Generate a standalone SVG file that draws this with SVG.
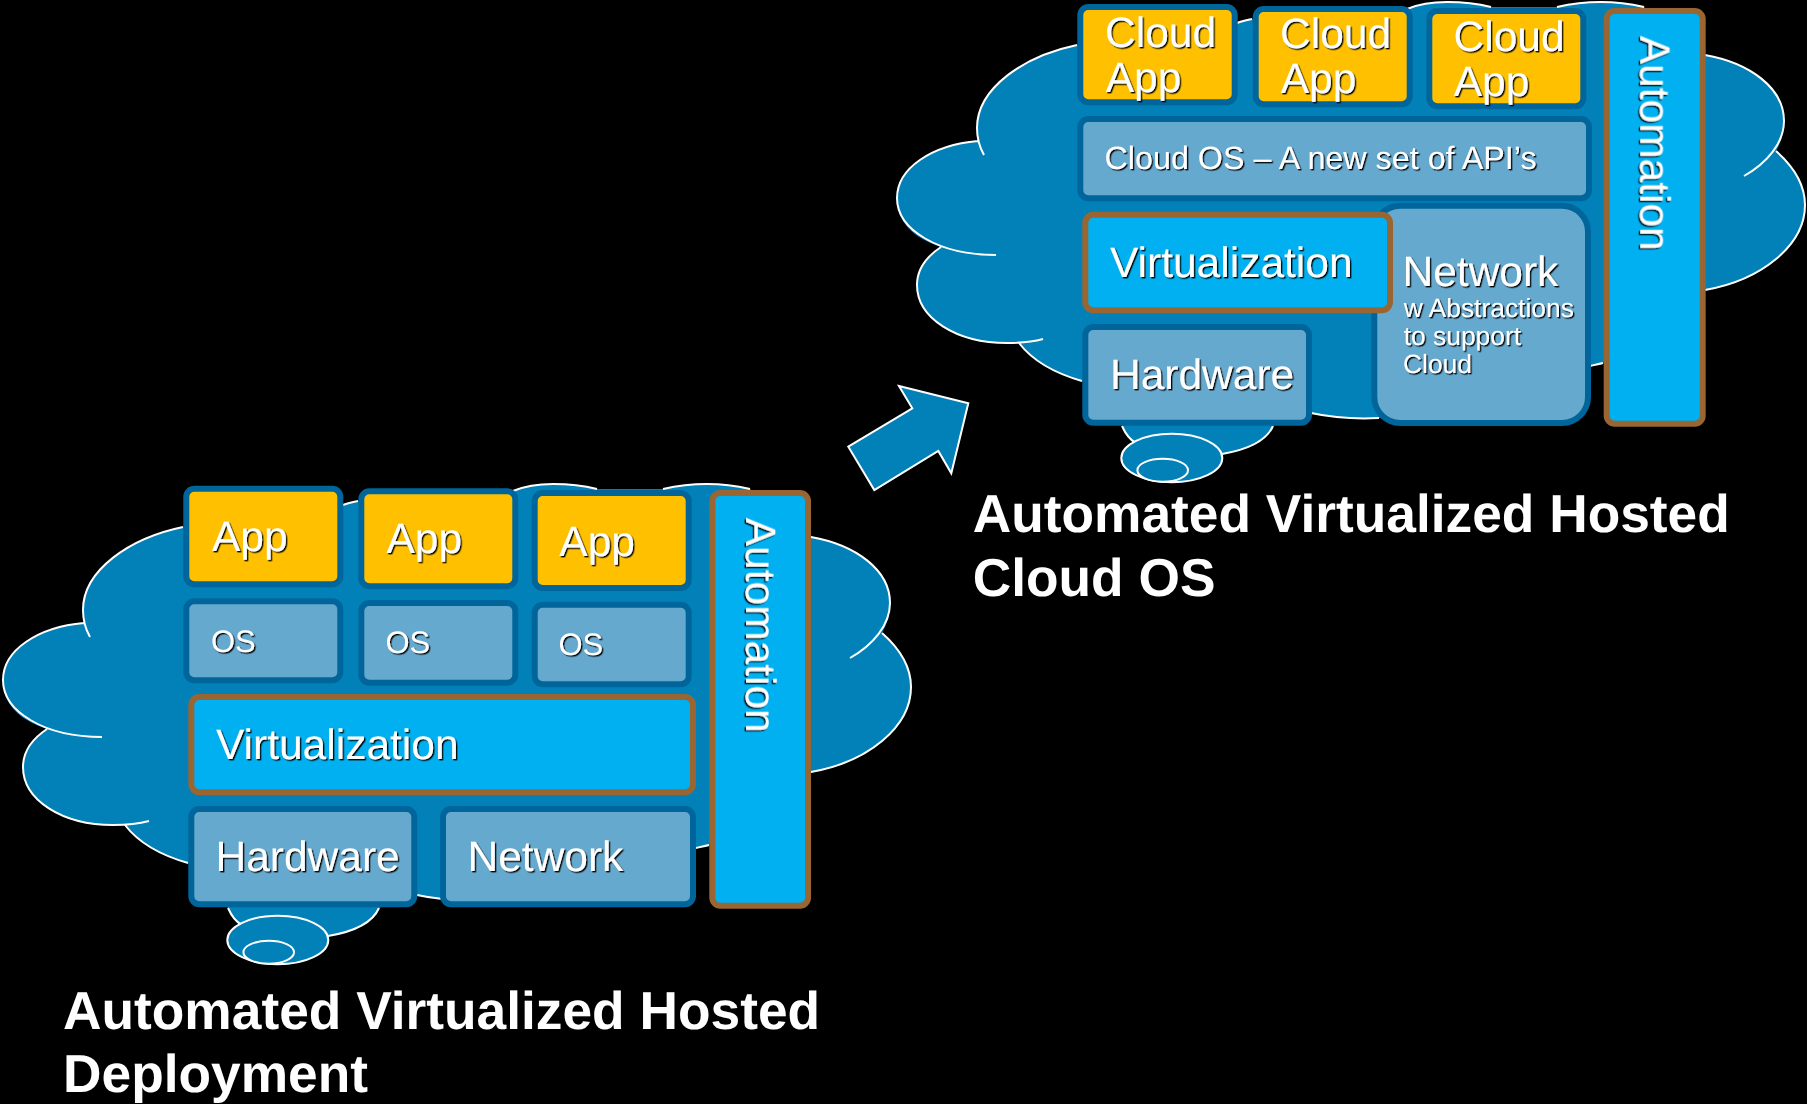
<svg xmlns="http://www.w3.org/2000/svg" width="1807" height="1104" viewBox="0 0 1807 1104">
<style>
.cf{fill:#0281B9;stroke:none}
.cs{fill:none;stroke:#fff;stroke-width:2}
.ce{fill:#0281B9;stroke:#fff;stroke-width:2}
.app{fill:#FFC000;stroke:#00659B;stroke-width:6}
.sys{fill:#65A9CF;stroke:#00659B;stroke-width:6}
.hi{fill:#00B0F0;stroke:#996633;stroke-width:6}
text{font-family:"Liberation Sans",Arial,sans-serif;fill:#fff;text-rendering:geometricPrecision}
.t{filter:url(#sh)}
.f42{font-size:42.5px}.f31{font-size:31px}.f32{font-size:32.3px}.f26{font-size:26.4px}
.title{font-size:53.3px;font-weight:bold}
</style>
<defs>
<filter id="sh" x="-10%" y="-20%" width="120%" height="140%"><feDropShadow dx="1.4" dy="1.4" stdDeviation="0.4" flood-color="#000" flood-opacity="0.95"/></filter>
<g id="cloud">
<path class="cf" d="M183 527C130 538 83 570 83 610L84 623C38 627 3 650 3 680C3 705 20 720 47 729C32 739 23 752 23 767C23 800 62 825 113 825L125 825C138 842 160 855 188 863L228 908C232 917 236 922 240 925L328 936C352 932 372 924 379 908L417 895C440 900 465 901 485 900C560 897 640 858 709 845L811 772C868 762 911 727 911 687C911 667 899 648 882 633C887 624 890 615 890 603C890 570 856 545 811 537L750 489C737 486 722 484 707 484C690 484 676 486 663 489L597 489C585 486 570 484 553 484C540 484 525 486 513 491L358 501L343 505Z"/>
<path class="cs" d="M183 527C130 538 83 570 83 610C83 620 86 630 90 637M84 623C38 627 3 650 3 680C3 712 45 737 102 737M47 729C32 739 23 752 23 767C23 800 62 825 113 825C126 825 138 824 149 821M125 825C138 842 160 855 188 863M417 895C440 900 465 901 485 900M696 848C700 847 705 846 709 845M228 908C232 917 236 922 242 925M379 908C372 924 352 932 328 936M343 505C348 503 353 502 358 501M513 491C525 486 540 484 553 484C570 484 585 486 597 489M663 489C676 486 690 484 707 484C722 484 737 486 750 489M811 537C856 545 890 570 890 603C890 625 873 645 850 658M882 633C899 648 911 667 911 687C911 727 868 762 811 772"/>
<ellipse class="ce" cx="277.8" cy="940" rx="50.5" ry="24.3"/>
<ellipse class="ce" cx="268.7" cy="952.3" rx="25.3" ry="11.5"/>
</g>
</defs>
<rect width="1807" height="1104" fill="#000"/>
<use id="cloud-left" href="#cloud"/>
<use id="cloud-right" href="#cloud" transform="translate(894 -482)"/>

<g id="connectors">
<path class="ce" d="M899 386L968.3 403.3L951.3 473.3L938.3 451L874.3 490L848.3 446.7L912.3 408.3Z"/>
</g>

<g id="left-app-1"><rect class="app" x="186.3" y="488.7" width="154" height="95.6" rx="8"/><text class="t f42" x="212" y="551">App</text></g>
<g id="left-app-2"><rect class="app" x="361.3" y="491.3" width="154" height="95" rx="8"/><text class="t f42" x="386.5" y="553.3">App</text></g>
<g id="left-app-3"><rect class="app" x="534.7" y="493" width="154" height="95" rx="8"/><text class="t f42" x="559.3" y="556">App</text></g>
<g id="left-os-1"><rect class="sys" x="186.3" y="601.3" width="154" height="79" rx="8"/><text class="t f31" x="211" y="651.7">OS</text></g>
<g id="left-os-2"><rect class="sys" x="361.3" y="603" width="154" height="79.7" rx="8"/><text class="t f31" x="385.5" y="653.3">OS</text></g>
<g id="left-os-3"><rect class="sys" x="534.7" y="604.7" width="154" height="79.6" rx="8"/><text class="t f31" x="558.5" y="655">OS</text></g>
<g id="left-virtualization"><rect class="hi" x="191.3" y="697" width="501.7" height="95.3" rx="8"/><text class="t f42" x="216" y="759">Virtualization</text></g>
<g id="left-hardware"><rect class="sys" x="191.3" y="809" width="223" height="95.3" rx="8"/><text class="t f42" x="215.5" y="870.7">Hardware</text></g>
<g id="left-network"><rect class="sys" x="443" y="809" width="250" height="95.3" rx="8"/><text class="t f42" x="467.5" y="870.7">Network</text></g>
<g id="left-automation"><rect class="hi" x="712.3" y="493" width="95.7" height="412.7" rx="8"/><text class="t f42" transform="translate(746 517.7) rotate(90)">Automation</text></g>
<g id="left-title"><text class="title" x="63" y="1029">Automated Virtualized Hosted</text><text class="title" x="63" y="1092.3">Deployment</text></g>

<g id="right-app-1"><rect class="app" x="1080.3" y="7" width="154.4" height="95.3" rx="8"/><text class="t f42" x="1105" y="46.7">Cloud</text><text class="t f42" x="1105.7" y="91.7">App</text></g>
<g id="right-app-2"><rect class="app" x="1255.7" y="9" width="154" height="95.3" rx="8"/><text class="t f42" x="1280" y="48.3">Cloud</text><text class="t f42" x="1280.7" y="93.3">App</text></g>
<g id="right-app-3"><rect class="app" x="1429.3" y="11" width="154" height="95.3" rx="8"/><text class="t f42" x="1453.5" y="50.7">Cloud</text><text class="t f42" x="1453.7" y="96">App</text></g>
<g id="right-cloud-os"><rect class="sys" x="1080.3" y="119" width="508.7" height="79.3" rx="8"/><text class="t f32" x="1104.5" y="169.3">Cloud OS – A new set of API’s</text></g>
<g id="right-network"><rect class="sys" x="1374.3" y="205.7" width="213.7" height="217.3" rx="26"/><text class="t f42" x="1402.5" y="286">Network</text><text class="t f26" x="1403.7" y="316.7">w Abstractions</text><text class="t f26" x="1403.7" y="345">to support</text><text class="t f26" x="1403" y="372.7">Cloud</text></g>
<g id="right-virtualization"><rect class="hi" x="1085.3" y="214.7" width="304.7" height="95.6" rx="8"/><text class="t f42" x="1110" y="276.7">Virtualization</text></g>
<g id="right-hardware"><rect class="sys" x="1085.3" y="327" width="223.7" height="95.7" rx="8"/><text class="t f42" x="1110" y="389">Hardware</text></g>
<g id="right-automation"><rect class="hi" x="1606.7" y="11" width="96" height="412.7" rx="8"/><text class="t f42" transform="translate(1640.3 35.7) rotate(90)">Automation</text></g>
<g id="right-title"><text class="title" x="972.7" y="531.7">Automated Virtualized Hosted</text><text class="title" x="972.7" y="595.7">Cloud OS</text></g>
</svg>
